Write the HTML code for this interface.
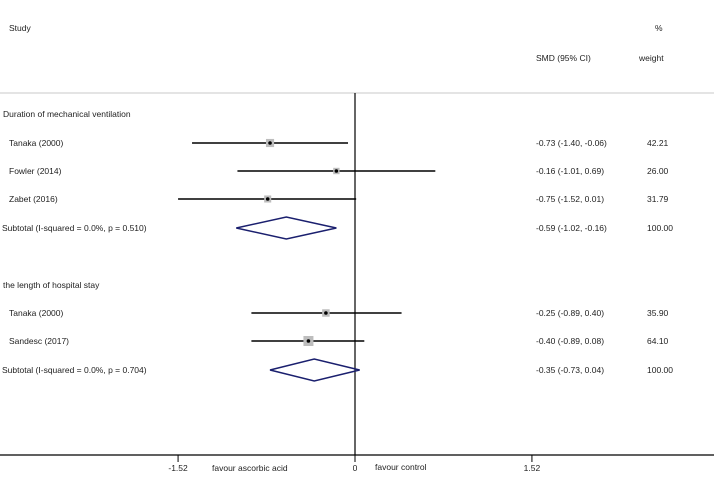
<!DOCTYPE html>
<html><head><meta charset="utf-8"><style>
body{margin:0;background:#fff;width:714px;height:475px;overflow:hidden}
svg text{font-family:"Liberation Sans",sans-serif;font-size:8.5px;fill:#222}
</style></head><body>
<svg width="714" height="475">
<text x="9" y="31">Study</text>
<text x="655" y="31">%</text>
<text x="536" y="61">SMD (95% CI)</text>
<text x="639" y="61">weight</text>
<line x1="0" x2="714" y1="93" y2="93" stroke="#c8c8c8" stroke-width="1"/>
<g id="marks"></g>
</svg>
<script>
const labels=["Tanaka  (2000)","Fowler  (2014)","Zabet  (2016)","Subtotal  (I-squared = 0.0%, p = 0.510)","Tanaka  (2000)","Sandesc  (2017)","Subtotal  (I-squared = 0.0%, p = 0.704)"];
const est=[-0.73,-0.16,-0.75,-0.59,-0.25,-0.40,-0.35];
const lo=[-1.40,-1.01,-1.52,-1.02,-0.89,-0.89,-0.73];
const hi=[-0.06,0.69,0.01,-0.16,0.40,0.08,0.04];
const weights=[42.21,26.00,31.79,100.00,35.90,64.10,100.00];
const isSub=[0,0,0,1,0,0,1];
const rowY=[143,171,199,228,313,341,370];
const groups=["Duration of mechanical ventilation","the length of hospital stay"];
const groupY=[114,285];
const ticks=[-1.52,0,1.52];
const tickLabels=["-1.52","0","1.52"];
const X=v=>355+v*116.4;
const ns="http://www.w3.org/2000/svg";
const g=document.getElementById('marks');
function mk(t,a){const e=document.createElementNS(ns,t);for(const k in a)e.setAttribute(k,a[k]);g.appendChild(e);return e;}
const f=v=>v.toFixed(2);
groups.forEach((s,i)=>{const t=mk('text',{x:3,y:groupY[i]+3});t.textContent=s;

});
let a=mk('line',{x1:0,x2:714,y1:455,y2:455,stroke:'#000','stroke-width':1.2});


let z=mk('line',{x1:X(0),x2:X(0),y1:93,y2:455,stroke:'#000','stroke-width':1.2});


ticks.forEach((v,i)=>{const l=mk('line',{x1:X(v),x2:X(v),y1:455,y2:462,stroke:'#000'});


const t=mk('text',{x:X(v),y:471,'text-anchor':'middle'});t.textContent=tickLabels[i];

});
let fa=mk('text',{x:212,y:471});fa.textContent='favour ascorbic acid';


let fc=mk('text',{x:375,y:470});fc.textContent='favour control';


labels.forEach((s,i)=>{const y=rowY[i];
const t=mk('text',{x:isSub[i]?2:9,y:y+3});t.textContent=s;


const c=mk('text',{x:536,y:y+3});c.textContent=f(est[i])+' ('+f(lo[i])+', '+f(hi[i])+')';


const w=mk('text',{x:647,y:y+3});w.textContent=f(weights[i]);


if(isSub[i]){const d=mk('polygon',{points:`${X(lo[i])},${y} ${X(est[i])},${y-11} ${X(hi[i])},${y} ${X(est[i])},${y+11}`,fill:'none',stroke:'#1a1f6e','stroke-width':1.5});

}
else{const l=mk('line',{x1:X(lo[i]),x2:X(hi[i]),y1:y,y2:y,stroke:'#000','stroke-width':1.5});


const s2=Math.sqrt(weights[i])*1.25;
const b=mk('rect',{x:X(est[i])-s2/2,y:y-s2/2,width:s2,height:s2,fill:'#bdbdbd'});


const p=mk('circle',{cx:X(est[i]),cy:y,r:1.8,fill:'#000'});

}
});
</script>
</body></html>
